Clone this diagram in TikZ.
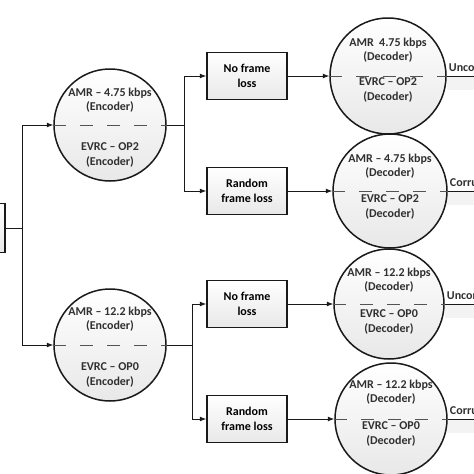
\documentclass[tikz,border=0pt]{standalone}
\usepackage{fontspec}
\setmainfont{Carlito}
\usetikzlibrary{arrows.meta,positioning,calc}
\definecolor{colTrait}{RGB}{25,25,25}
\definecolor{colFond}{RGB}{232,232,232}
\definecolor{colBande}{RGB}{243,243,243}

\begin{document}
\begin{tikzpicture}[x=1pt, y=-1pt, font=\fontsize{12}{14.5}\selectfont\bfseries,
    cod/.style={circle, draw=colTrait, line width=1.5pt, minimum size=112pt,
      inner sep=0pt, top color=white, bottom color=colFond},
    bt/.style={rectangle, draw=colTrait, line width=1.5pt, align=center,
      minimum width=80pt, minimum height=47pt, inner sep=2pt,
      top color=white, bottom color=colFond},
    txt/.style={align=center, inner sep=0pt, text=colTrait!90},
    fl/.style={-{Latex[length=2.2mm]}, line width=0.8pt, colTrait},
    ln/.style={line width=0.8pt, colTrait},
    sep/.style={dash pattern=on 13pt off 14pt, line width=0.8pt, colTrait!75}]
    \useasboundingbox (0,0) rectangle (474,474);
    \clip (0,0) rectangle (474,474);
    % bandes de sortie
    \fill[colBande] (447,77) rectangle (474,90);
    \fill[colBande] (447,192) rectangle (474,205);
    \fill[colBande] (445,305) rectangle (474,318);
    \fill[colBande] (447,420) rectangle (474,433);
    % source
    \node[bt, minimum width=18pt, minimum height=49pt] (src) at (-4,228) {};
    % encodeurs
    \node[cod] (e1) at (110,125) {};
    \node[cod] (e2) at (110,345) {};
    % canaux
    \node[bt] (b1) at (247,76) {No frame\\ loss};
    \node[bt] (b2) at (247,191) {Random\\ frame loss};
    \node[bt] (b3) at (247,304) {No frame\\ loss};
    \node[bt] (b4) at (247,419) {Random\\ frame loss};
    % decodeurs
    \node[cod, minimum size=116pt] (d1) at (388,76) {};
    \node[cod, minimum size=114pt] (d2) at (390,191) {};
    \node[cod, minimum size=110pt] (d3) at (389,304) {};
    \node[cod] (d4) at (391,419) {};
    \foreach \c in {e1,e2,d1,d2,d3,d4}
      \draw[sep] (\c.west) -- (\c.east);
    % textes
    \node[txt] (e1h) at ($(e1)+(0,-25)$) {AMR -- 4.75 kbps\\ (Encoder)};
    \node[txt] (e1b) at ($(e1)+(0,30)$) {EVRC -- OP2\\ (Encoder)};
    \node[txt] (e2h) at ($(e2)+(0,-26)$) {AMR -- 12.2 kbps\\ (Encoder)};
    \node[txt] (e2b) at ($(e2)+(0,30)$) {EVRC -- OP0\\ (Encoder)};
    \node[txt] (d1h) at ($(d1)+(0,-26)$) {AMR\ \ 4.75 kbps\\ (Decoder)};
    \node[txt] (d1b) at ($(d1)+(0,14)$) {EVRC -- OP2\\ (Decoder)};
    \node[txt] (d2h) at ($(d2)+(0,-25)$) {AMR -- 4.75 kbps\\ (Decoder)};
    \node[txt] (d2b) at ($(d2)+(0,16)$) {EVRC -- OP2\\ (Decoder)};
    \node[txt] (d3h) at ($(d3)+(0,-24)$) {AMR -- 12.2 kbps\\ (Decoder)};
    \node[txt] (d3b) at ($(d3)+(0,18)$) {EVRC -- OP0\\ (Decoder)};
    \node[txt] (d4h) at ($(d4)+(0,-27)$) {AMR -- 12.2 kbps\\ (Decoder)};
    \node[txt] (d4b) at ($(d4)+(0,15)$) {EVRC -- OP0\\ (Decoder)};
    % liaisons
    \coordinate (j0) at (22,228);
    \coordinate (j1) at (184,125);
    \coordinate (j2) at (192,345);
    \draw[ln] (src.east) -- (j0);
    \draw[fl] (j0) |- (e1.west);
    \draw[fl] (j0) |- (e2.west);
    \draw[ln] (e1.east) -- (j1);
    \draw[fl] (j1) |- (b1.west);
    \draw[fl] (j1) |- (b2.west);
    \draw[ln] (e2.east) -- (j2);
    \draw[fl] (j2) |- (b3.west);
    \draw[fl] (j2) |- (b4.west);
    \foreach \i in {1,2,3,4}
      \draw[fl] (b\i.east) -- (d\i.west);
    % sorties
    \foreach \i/\lab in {1/Uncorrupted,2/Corrupted,3/Uncorrupted,4/Corrupted}{
      \coordinate (s\i) at ($(d\i.east)+(40,0)$);
      \draw[ln] (d\i.east) -- (s\i);
      \node[txt, anchor=south west] (l\i) at ($(d\i.east)+(2,-2)$) {\lab};
    }
  \end{tikzpicture}
\end{document}
